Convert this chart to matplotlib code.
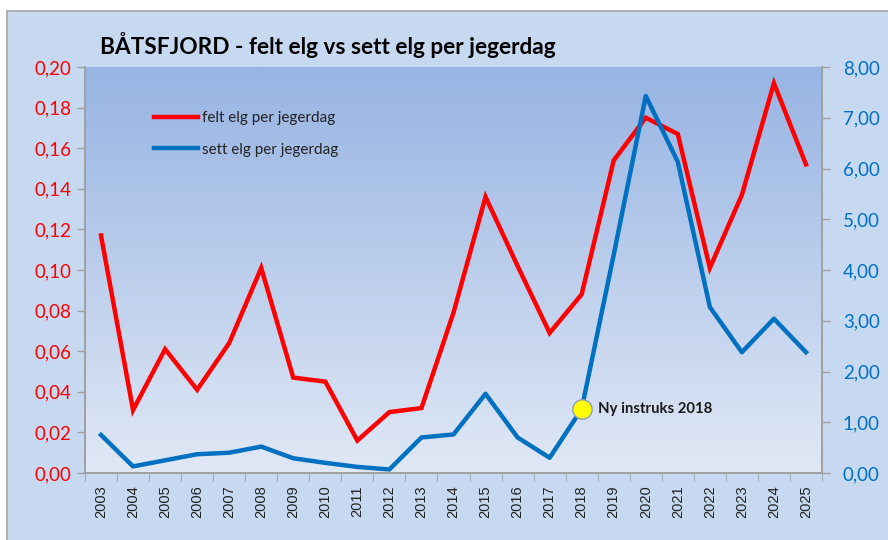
import numpy as np
import matplotlib
matplotlib.use("Agg")
import matplotlib.pyplot as plt
from matplotlib.patches import Rectangle
from matplotlib.ticker import FuncFormatter, MultipleLocator

plt.rcParams['font.family'] = ['Lato', 'DejaVu Sans']

years = [str(y) for y in range(2003, 2026)]
felt = [0.117, 0.031, 0.061, 0.041, 0.064, 0.101, 0.047, 0.045, 0.016, 0.030, 0.032,
        0.079, 0.136, 0.102, 0.069, 0.088, 0.154, 0.175, 0.167, 0.101, 0.137, 0.192, 0.152]
sett = [0.75, 0.13, 0.25, 0.37, 0.40, 0.52, 0.29, 0.20, 0.12, 0.07, 0.70,
        0.76, 1.56, 0.70, 0.30, 1.26, 4.30, 7.43, 6.13, 3.27, 2.38, 3.04, 2.38]
note_year = '2018'
note_text = 'Ny instruks 2018'

red = '#FF0000'
blue = '#0070C0'
chart_bg = '#C6D9F1'

fig = plt.figure(figsize=(8.88, 5.4), dpi=100)
fig.patch.set_facecolor('white')
fig.patches.append(Rectangle((7 / 888, -0.01), 1.0, 1 - 11 / 540 + 0.01, transform=fig.transFigure,
                             facecolor=chart_bg, edgecolor='#a6a6a6', linewidth=1.2, zorder=-5))

ax = fig.add_axes([85 / 888, 1 - 473 / 540, (822 - 85) / 888, (473 - 67) / 540])
ax.set_facecolor('none')

# gradient plot area
top = np.array([151, 180, 227]) / 255
bot = np.array([224, 232, 245]) / 255
t = np.linspace(0, 1, 256)[:, None]
grad = (top * (1 - t) + bot * t)[:, None, :]
ax.imshow(grad, extent=[0, 1, 0, 1], transform=ax.transAxes, aspect='auto', zorder=0)

x = np.arange(len(years))
ax.plot(x, felt, color=red, linewidth=3.2, solid_joinstyle='miter', label='felt elg per jegerdag', zorder=3)
ax.set_xlim(-0.5, len(years) - 0.5)
ax.set_ylim(0, 0.20)
ax.yaxis.set_major_locator(MultipleLocator(0.02))
ax.yaxis.set_major_formatter(FuncFormatter(lambda v, p: f'{v:.2f}'.replace('.', ',')))
ax.tick_params(axis='y', colors='#a0a0a0', labelcolor=red, labelsize=13.5, length=6, width=1, pad=4)

ax.set_xticks(x)
ax.set_xticklabels(years, rotation=90, fontsize=10.5, family='Liberation Sans', color='#222222')
ax.set_xticks(np.arange(-0.5, len(years)), minor=True)
ax.tick_params(axis='x', which='major', length=0, pad=9)
ax.tick_params(axis='x', which='minor', length=6, color='#a0a0a0')

ax2 = ax.twinx()
ax2.plot(x, sett, color=blue, linewidth=3.2, label='sett elg per jegerdag', zorder=3)
ax2.set_ylim(0, 8)
ax2.yaxis.set_major_locator(MultipleLocator(1))
ax2.yaxis.set_major_formatter(FuncFormatter(lambda v, p: f'{v:.2f}'.replace('.', ',')))
ax2.tick_params(axis='y', colors='#a0a0a0', labelcolor=blue, labelsize=13.5, length=6, width=1, pad=9)

for a in (ax, ax2):
    a.spines['top'].set_visible(False)
    for s in ('left', 'right', 'bottom'):
        a.spines[s].set_color('#a0a0a0')
        a.spines[s].set_linewidth(1.2)

i = years.index(note_year)
ax2.plot(x[i], sett[i], 'o', markersize=14, markerfacecolor='#FFFF00', markeredgecolor='#8aa0b8',
         markeredgewidth=1, zorder=5)
ax2.annotate(note_text, (x[i], sett[i]), xytext=(12, 0), textcoords='offset points',
             va='center', ha='left', fontsize=10.7, fontweight='bold', color='#1a1a1a')

h1, l1 = ax.get_legend_handles_labels()
h2, l2 = ax2.get_legend_handles_labels()
ax.legend(h1 + h2, l1 + l2, loc='upper left', bbox_to_anchor=(0.075, 0.925), frameon=False,
          fontsize=11, handlelength=2.9, handletextpad=0.25, labelspacing=1.15, labelcolor='#222222')

fig.text(100 / 888, 1 - 45 / 540, 'BÅTSFJORD - felt elg vs sett elg per jegerdag',
         fontsize=16.3, fontweight='bold', va='center', ha='left', color='black')

fig.savefig('out.png', dpi=100)
